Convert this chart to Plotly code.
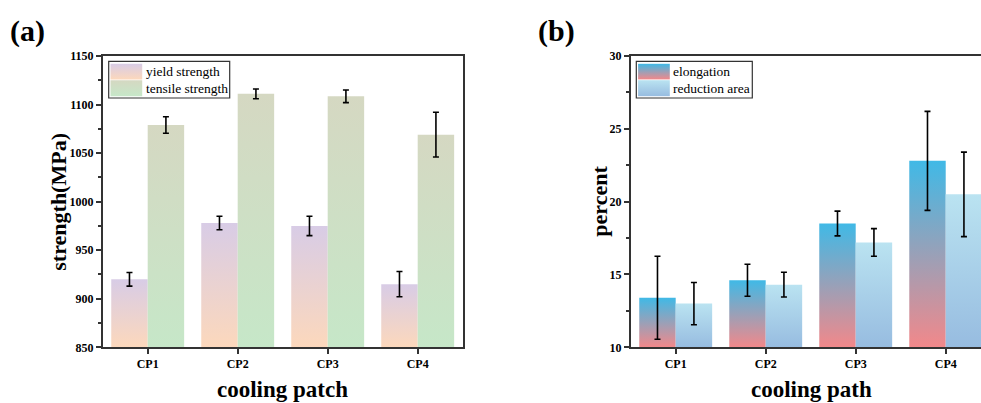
import plotly.graph_objects as go

# ---------------- data ----------------
categories = ["CP1", "CP2", "CP3", "CP4"]

yield_strength = [920, 978, 975, 915]
yield_err = [7, 7, 10, 13]
tensile_strength = [1079, 1111, 1108.5, 1069]
tensile_err = [8.5, 5, 6.5, 23]

elongation = [13.4, 14.6, 18.5, 22.8]
elongation_err = [2.85, 1.1, 0.85, 3.4]
reduction_area = [13.0, 14.3, 17.2, 20.5]
reduction_err = [1.45, 0.85, 0.95, 2.9]

# ---------------- style ----------------
W, H = 981, 403
SERIF = "Liberation Serif, Times New Roman, serif"
AXC = "#333333"
BAR_W = 0.405  # width of each bar in category units

COLORS = {
    "yield strength": ("#FCD8BC", "#D8CCE6"),
    "tensile strength": ("#C6E7C8", "#D5D8C2"),
    "elongation": ("#F2888A", "#40B9E6"),
    "reduction area": ("#97BCE0", "#BAE3F1"),
}


def fx(p):
    return p / W


def fy(p):
    return 1 - p / H


fig = go.Figure()


def add_bars(values, errs, base, side, name, xa, ya):
    cbot, ctop = COLORS[name]
    for i, v in enumerate(values):
        x0 = i - BAR_W if side < 0 else i
        x1 = i if side < 0 else i + BAR_W
        fig.add_trace(go.Scatter(
            x=[x0, x0, x1, x1, x0], y=[base, v, v, base, base],
            mode="none", fill="toself",
            fillgradient=dict(type="vertical", colorscale=[[0, cbot], [1, ctop]],
                              start=base, stop=v),
            name=name, showlegend=False, xaxis=xa, yaxis=ya, hoverinfo="skip",
        ))
    fig.add_trace(go.Scatter(
        x=[i + side * BAR_W / 2 for i in range(len(values))], y=values,
        mode="markers", marker=dict(size=1, opacity=0),
        error_y=dict(type="data", array=errs, color="black", thickness=1.6, width=3),
        showlegend=False, xaxis=xa, yaxis=ya, name=name,
    ))


# panel (a)
add_bars(yield_strength, yield_err, 850, -1, "yield strength", "x", "y")
add_bars(tensile_strength, tensile_err, 850, 1, "tensile strength", "x", "y")
# panel (b)
add_bars(elongation, elongation_err, 10, -1, "elongation", "x2", "y2")
add_bars(reduction_area, reduction_err, 10, 1, "reduction area", "x2", "y2")


# ---------------- hand-drawn legends (gradient swatches) on a pixel overlay axis ----------------
def add_legend(x_box, names):
    box_l, box_r, box_t, box_b = x_box, x_box + (121 if names[0] == "yield strength" else 116), 61.3, 98
    sw_l, sw_r = box_l + 1.8, box_l + 33.5
    rows = [(63.8, 79.4), (80.2, 96.2)]
    for name, (t, b) in zip(names, rows):
        cbot, ctop = COLORS[name]
        fig.add_trace(go.Scatter(
            x=[sw_l, sw_l, sw_r, sw_r, sw_l], y=[H - b, H - t, H - t, H - b, H - b],
            mode="none", fill="toself",
            fillgradient=dict(type="vertical", colorscale=[[0, cbot], [1, ctop]],
                              start=H - b, stop=H - t),
            showlegend=False, xaxis="x3", yaxis="y3", hoverinfo="skip",
        ))
        fig.add_annotation(xref="paper", yref="paper", x=fx(sw_r + 1.5), y=fy((t + b) / 2),
                           xanchor="left", yanchor="middle", showarrow=False, text=name,
                           font=dict(family=SERIF, size=13.5, color="black"))
    fig.add_shape(type="rect", xref="paper", yref="paper",
                  x0=fx(box_l), x1=fx(box_r), y0=fy(box_b), y1=fy(box_t),
                  line=dict(color=AXC, width=1.2), fillcolor="rgba(0,0,0,0)", layer="above")


add_legend(108.7, ["yield strength", "tensile strength"])
add_legend(636.3, ["elongation", "reduction area"])

tickfont = dict(family=SERIF, size=12, color="black", weight="bold")
common_x = dict(tickmode="array", tickvals=list(range(len(categories))), ticktext=categories,
                ticks="outside", ticklen=5, tickwidth=1.5, tickcolor=AXC,
                showline=True, linecolor=AXC, linewidth=1.5, showgrid=False, zeroline=False,
                tickfont=tickfont, fixedrange=True, automargin=False)
common_y = dict(ticks="outside", ticklen=5, tickwidth=1.5, tickcolor=AXC,
                showline=True, linecolor=AXC, linewidth=1.5, showgrid=False, zeroline=False,
                tickfont=tickfont, fixedrange=True, automargin=False)

fig.update_layout(
    width=W, height=H,
    margin=dict(l=0, r=0, t=0, b=0, autoexpand=False),
    paper_bgcolor="white", plot_bgcolor="rgba(0,0,0,0)",
    showlegend=False,
    xaxis=dict(domain=[fx(102.7), fx(462.7)], range=[-0.5, 3.5], mirror=True, anchor="y", **common_x),
    yaxis=dict(domain=[fy(347.3), fy(56)], range=[850, 1150], dtick=50, mirror=True, anchor="x",
               minor=dict(ticks="outside", ticklen=3, dtick=25, tickcolor=AXC, tickwidth=1.5),
               **common_y),
    xaxis2=dict(domain=[fx(630.7), 1.0], range=[-0.5, 3.392], mirror=True, anchor="y2", **common_x),
    yaxis2=dict(domain=[fy(347.3), fy(56)], range=[10, 30], dtick=5, mirror=False, anchor="x2",
                minor=dict(ticks="outside", ticklen=3, dtick=2.5, tickcolor=AXC, tickwidth=1.5),
                **common_y),
    xaxis3=dict(domain=[0, 1], range=[0, W], visible=False, fixedrange=True, anchor="y3"),
    yaxis3=dict(domain=[0, 1], range=[0, H], visible=False, fixedrange=True, anchor="x3"),
)

annots = [
    dict(text="(a)", x=fx(27), y=fy(31), font=dict(size=30)),
    dict(text="(b)", x=fx(556), y=fy(31), font=dict(size=30)),
    dict(text="strength(MPa)", x=fx(59), y=fy(201.7), textangle=-90, font=dict(size=22)),
    dict(text="cooling patch", x=fx(282), y=fy(389), font=dict(size=23)),
    dict(text="percent", x=fx(600), y=fy(201.7), textangle=-90, font=dict(size=22)),
    dict(text="cooling path", x=fx(811), y=fy(389), font=dict(size=23)),
]
for a in annots:
    a["font"].update(family=SERIF, color="black", weight="bold")
    fig.add_annotation(xref="paper", yref="paper", xanchor="center", yanchor="middle",
                       showarrow=False, **a)

fig.write_html("out.html")
